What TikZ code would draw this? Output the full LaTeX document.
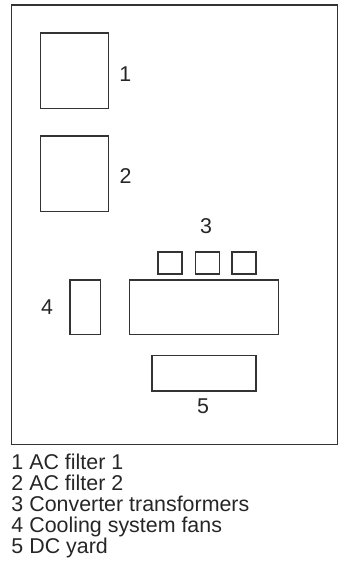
\documentclass[tikz,border=0pt]{standalone}
\usepackage{fontspec}
\setmainfont{Liberation Sans}
\usepackage{tikz}
\usetikzlibrary{
    positioning,
    shadows
}

\begin{document}
\begin{tikzpicture}[
    x=1pt, y=-1pt,
    part/.style={rectangle, draw=black!80, line width=1.3pt, fill=white, inner sep=0pt},
    trafo/.style={part, minimum width=24pt, minimum height=22pt, drop shadow={shadow xshift=0.9pt, shadow yshift=-0.9pt, fill=black!85, opacity=1}},
    num/.style={inner sep=0pt, anchor=base, font=\fontsize{21.4}{21.4}\selectfont, text=black!85},
    legend/.style={inner sep=0pt, anchor=base west, font=\fontsize{21.4}{21.4}\selectfont, text=black!85}
]
\useasboundingbox (0,0) rectangle (353,574);
\node[part, minimum width=325.6pt, minimum height=439.3pt] (site) at (174.5,224.65) {};

% filters
\node[part, minimum width=68pt, minimum height=75.7pt] (filterA) at (74.7,70.8) {};
\node[part, minimum width=68pt, minimum height=75.7pt] (filterB) at (74.7,173.8) {};

% converter hall and transformers
\node[part, minimum width=149.4pt, minimum height=54.7pt] (hall) at (204,307.3) {};
\node[trafo] (trafoA) at (170,263) {};
\node[trafo] (trafoB) at (207.5,263) {};
\node[trafo] (trafoC) at (244,263) {};

\node[part, minimum width=30.3pt, minimum height=54.7pt] (fans) at (85.2,307.3) {};
\node[part, minimum width=104pt, minimum height=35.7pt] (dcyard) at (204,373) {};

% numbers
\node[num] (n1) at (125.3,81) {1};
\node[num] (n2) at (125.5,183) {2};
\node[num] (n3) at (206,233) {3};
\node[num] (n4) at (47,314) {4};
\node[num] (n5) at (203,413) {5};

% legend
\foreach \i/\txt in {1/AC filter 1, 2/AC filter 2, 3/Converter transformers, 4/Cooling system fans, 5/DC yard}
    \node[legend] (leg\i) at (11.3,448+21*\i) {\i\ \txt};
\end{tikzpicture}
\end{document}
